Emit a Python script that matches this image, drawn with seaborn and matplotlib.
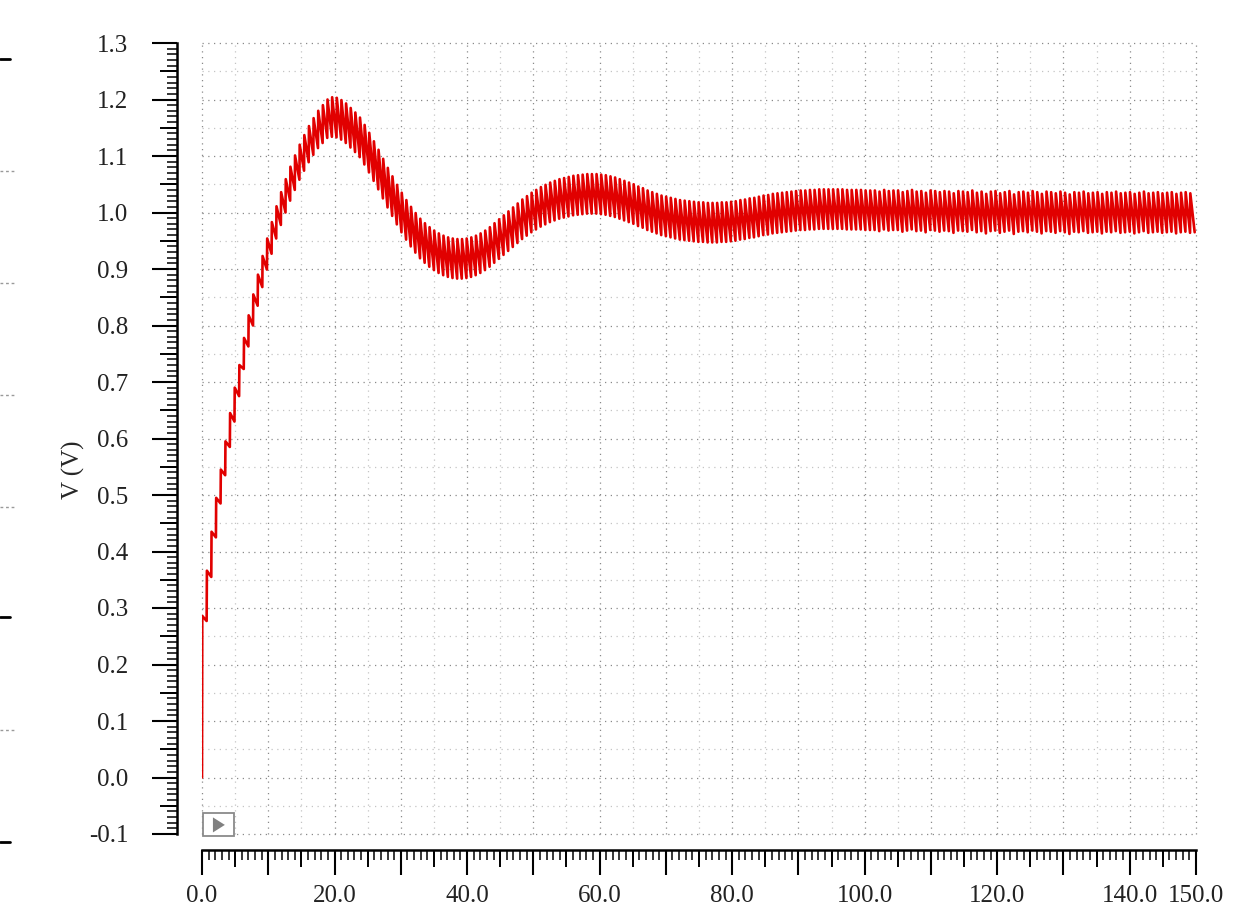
import numpy as np
import pandas as pd
import matplotlib
matplotlib.use("Agg")
import matplotlib.pyplot as plt
from matplotlib.ticker import MultipleLocator, FuncFormatter, NullLocator
from matplotlib.patches import Rectangle, Polygon
from matplotlib.lines import Line2D
import seaborn as sns

# ---------------- data ----------------
period_us = 0.7          # switching period (one ripple tooth)
rise_us = 0.04           # duration of the fast edge of each tooth

# voltage just before each fast edge (tooth bottoms), one per cycle
v_low = [
    0.000, 0.277, 0.355, 0.425, 0.485, 0.535, 0.585, 0.630, 0.675, 0.723,
    0.763, 0.800, 0.835, 0.868, 0.899, 0.927, 0.954, 0.978, 1.000, 1.021,
    1.040, 1.058, 1.074, 1.089, 1.102, 1.114, 1.123, 1.132, 1.134, 1.133,
    1.129, 1.123, 1.115, 1.107, 1.098, 1.085, 1.071, 1.056, 1.041, 1.025,
    1.009, 0.994, 0.979, 0.965, 0.952, 0.940, 0.929, 0.919, 0.911, 0.904,
    0.898, 0.893, 0.889, 0.886, 0.884, 0.883, 0.883, 0.884, 0.886, 0.889,
    0.893, 0.898, 0.904, 0.911, 0.918, 0.925, 0.932, 0.939, 0.946, 0.953,
    0.959, 0.965, 0.970, 0.975, 0.979, 0.983, 0.986, 0.989, 0.991, 0.993,
    0.995, 0.996, 0.997, 0.998, 0.998, 0.998, 0.997, 0.996, 0.994, 0.992,
    0.989, 0.986, 0.983, 0.980, 0.976, 0.973, 0.969, 0.966, 0.963, 0.960,
    0.958, 0.956, 0.954, 0.952, 0.951, 0.950, 0.949, 0.948, 0.948, 0.947,
    0.947, 0.947, 0.948, 0.948, 0.949, 0.950, 0.952, 0.953, 0.955, 0.956,
    0.958, 0.960, 0.961, 0.963, 0.964, 0.965, 0.966, 0.967, 0.968, 0.969,
    0.969, 0.970, 0.970, 0.971, 0.971, 0.971, 0.971, 0.971, 0.971, 0.970,
    0.970, 0.970, 0.970, 0.969, 0.969, 0.969, 0.967, 0.970, 0.968, 0.969,
    0.969, 0.966, 0.968, 0.970, 0.967, 0.968, 0.965, 0.969, 0.968, 0.966,
    0.968, 0.967, 0.964, 0.968, 0.967, 0.966, 0.969, 0.965, 0.967, 0.963,
    0.967, 0.968, 0.964, 0.966, 0.968, 0.962, 0.966, 0.967, 0.965, 0.968,
    0.966, 0.963, 0.967, 0.966, 0.964, 0.967, 0.965, 0.962, 0.966, 0.965,
    0.967, 0.964, 0.965, 0.966, 0.963, 0.966, 0.965, 0.967, 0.964, 0.965,
    0.966, 0.963, 0.965, 0.967, 0.964, 0.965, 0.966, 0.964, 0.965, 0.966,
    0.963, 0.965, 0.966, 0.964, 0.965,
]

# voltage just after each fast edge (tooth tops), one per cycle
v_high = [
    0.286, 0.366, 0.435, 0.495, 0.545, 0.595, 0.645, 0.690, 0.730, 0.778,
    0.818, 0.855, 0.890, 0.923, 0.954, 0.983, 1.011, 1.036, 1.059, 1.081,
    1.101, 1.120, 1.137, 1.153, 1.167, 1.180, 1.190, 1.200, 1.204, 1.203,
    1.199, 1.193, 1.185, 1.177, 1.168, 1.155, 1.141, 1.126, 1.111, 1.095,
    1.079, 1.064, 1.049, 1.035, 1.022, 1.010, 0.999, 0.989, 0.981, 0.974,
    0.968, 0.963, 0.959, 0.956, 0.954, 0.953, 0.953, 0.954, 0.956, 0.959,
    0.963, 0.968, 0.974, 0.981, 0.988, 0.995, 1.002, 1.009, 1.016, 1.023,
    1.029, 1.035, 1.040, 1.045, 1.049, 1.053, 1.056, 1.059, 1.061, 1.063,
    1.065, 1.066, 1.067, 1.068, 1.068, 1.068, 1.067, 1.066, 1.064, 1.062,
    1.059, 1.056, 1.053, 1.050, 1.046, 1.043, 1.039, 1.036, 1.033, 1.030,
    1.028, 1.026, 1.024, 1.022, 1.021, 1.020, 1.019, 1.018, 1.018, 1.017,
    1.017, 1.017, 1.018, 1.018, 1.019, 1.020, 1.022, 1.023, 1.025, 1.026,
    1.028, 1.030, 1.031, 1.033, 1.034, 1.035, 1.036, 1.037, 1.038, 1.039,
    1.039, 1.040, 1.040, 1.041, 1.041, 1.041, 1.041, 1.041, 1.041, 1.040,
    1.040, 1.040, 1.040, 1.039, 1.039, 1.039, 1.037, 1.040, 1.038, 1.039,
    1.039, 1.036, 1.038, 1.040, 1.037, 1.038, 1.035, 1.039, 1.038, 1.036,
    1.038, 1.037, 1.034, 1.038, 1.037, 1.036, 1.039, 1.035, 1.037, 1.033,
    1.037, 1.038, 1.034, 1.036, 1.038, 1.032, 1.036, 1.037, 1.035, 1.038,
    1.036, 1.033, 1.037, 1.036, 1.034, 1.037, 1.035, 1.032, 1.036, 1.035,
    1.037, 1.034, 1.035, 1.036, 1.033, 1.036, 1.035, 1.037, 1.034, 1.035,
    1.036, 1.033, 1.035, 1.037, 1.034, 1.035, 1.036, 1.034, 1.035, 1.036,
    1.033, 1.035, 1.036, 1.034,
]

x_label_values = [0, 20, 40, 60, 80, 100, 120, 140, 150]
y_label = "V (V)"

# ---------------- build the waveform table ----------------
n = min(len(v_high), len(v_low) - 1)
t_pts, v_pts = [], []
for k in range(n):
    t0 = k * period_us
    t_pts += [t0, t0 + rise_us]
    v_pts += [v_low[k], v_high[k]]
t_pts.append(n * period_us)
v_pts.append(v_low[n])
wave = pd.DataFrame({"t": t_pts, "v": v_pts})

# ---------------- style ----------------
sns.set_theme(style="white")
plt.rcParams["font.family"] = ["Liberation Serif", "DejaVu Serif"]
plt.rcParams["axes.unicode_minus"] = False

W, H = 1243, 919
fig = plt.figure(figsize=(W / 100, H / 100), dpi=100)
fig.patch.set_facecolor("white")
ax = fig.add_axes([202 / W, 1 - 834 / H, 994 / W, 791 / H])
ax.set_facecolor("white")

# grid (dotted, darker every 0.1 / 10, lighter in between)
dots = (0, (1, 3.6))
for v in np.arange(-0.1, 1.301, 0.1):
    ax.axhline(v, color="#8a8a8a", lw=0.9, ls=dots, zorder=0, clip_on=False)
for v in np.arange(-0.05, 1.3, 0.1):
    ax.axhline(v, color="#c4c4c4", lw=0.9, ls=dots, zorder=0, clip_on=False)
for u in np.arange(0, 150.1, 10):
    ax.axvline(u, color="#8a8a8a", lw=0.9, ls=dots, zorder=0, clip_on=False)
for u in np.arange(5, 150, 10):
    ax.axvline(u, color="#c4c4c4", lw=0.9, ls=dots, zorder=0, clip_on=False)

sns.lineplot(data=wave, x="t", y="v", ax=ax, sort=False, estimator=None,
             color="#e10000", lw=1.9, zorder=3)

ax.set_xlim(0, 150)
ax.set_ylim(-0.1, 1.3)
ax.set_xlabel("")
ax.set_ylabel(y_label, fontsize=18)

for s in ["top", "right"]:
    ax.spines[s].set_visible(False)
ax.spines["left"].set_position(("outward", 18))
ax.spines["bottom"].set_position(("outward", 11.5))
for s in ["left", "bottom"]:
    ax.spines[s].set_color("black")
    ax.spines[s].set_linewidth(1.8)

ax.xaxis.set_major_locator(MultipleLocator(10))
ax.xaxis.set_minor_locator(MultipleLocator(1))
ax.yaxis.set_major_locator(MultipleLocator(0.1))
ax.yaxis.set_minor_locator(MultipleLocator(0.01))
ax.xaxis.set_major_formatter(FuncFormatter(
    lambda v, p: f"{v:.1f}" if int(round(v)) in x_label_values else ""))
ax.yaxis.set_major_formatter(FuncFormatter(lambda v, p: f"{v:.1f}"))

ax.tick_params(axis="both", which="major", direction="out", length=18,
               width=1.5, color="black", labelsize=18, labelcolor="#222222",
               bottom=True, left=True)
ax.tick_params(axis="x", which="major", pad=7)
ax.tick_params(axis="y", which="major", pad=17)
ax.tick_params(axis="both", which="minor", direction="out", length=7.2,
               width=1.1, color="black", bottom=True, left=True)

# medium ticks (every 5 units / 0.05 V)
secx = ax.secondary_xaxis(-16 / 791)
secx.set_xticks(np.arange(5, 150, 10))
secx.xaxis.set_minor_locator(NullLocator())
secx.tick_params(axis="x", direction="out", length=12.2, width=1.4,
                 color="black", bottom=True, labelbottom=False)
secx.spines["bottom"].set_visible(False)
secy = ax.secondary_yaxis(-25 / 994)
secy.set_yticks(np.arange(-0.05, 1.3, 0.1))
secy.yaxis.set_minor_locator(NullLocator())
secy.tick_params(axis="y", direction="out", length=12.2, width=1.4,
                 color="black", left=True, labelleft=False)
secy.spines["left"].set_visible(False)

ax.yaxis.set_label_coords(-0.118, 0.46)

# small "play" marker box in the corner
ax.add_patch(Rectangle((0.001, -0.003), 0.031, 0.029, transform=ax.transAxes,
                       facecolor="white", edgecolor="#8a8a8a", lw=1.3,
                       zorder=4, clip_on=False))
ax.add_patch(Polygon([(0.011, 0.002), (0.011, 0.021), (0.023, 0.0115)],
                     closed=True, transform=ax.transAxes, facecolor="#808080",
                     edgecolor="none", zorder=5, clip_on=False))

# edge of neighbouring panel on the left
for yp in [59, 617, 842]:
    fig.add_artist(Line2D([0, 10 / W], [1 - yp / H] * 2, color="black",
                          lw=2.0, transform=fig.transFigure))
for yp in [171, 283, 395, 507, 730]:
    fig.add_artist(Line2D([0, 14 / W], [1 - yp / H] * 2, color="#999999",
                          lw=1.0, ls=(0, (2, 2)), transform=fig.transFigure))

fig.savefig("out.png", dpi=100, facecolor="white")
